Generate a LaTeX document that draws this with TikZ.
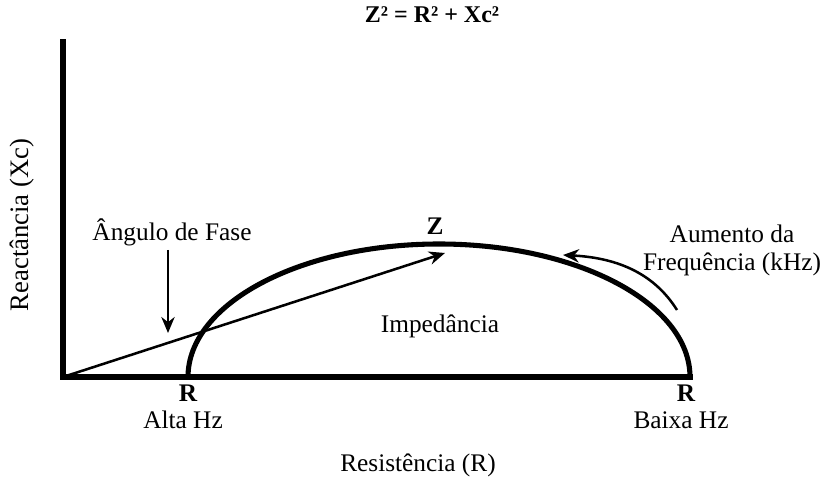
\documentclass[tikz,border=0pt]{standalone}
\usepackage{fontspec}
\setmainfont{Liberation Serif}
\usetikzlibrary{arrows.meta}

\tikzset{
  axisline/.style={line width=3.8pt, line cap=rect},
  curveline/.style={line width=3.8pt},
  thinarrow/.style={line width=1.9pt, -{Stealth[length=12pt, width=10pt]}},
  lbl/.style={font=\fontsize{19}{21}\selectfont, inner sep=0pt},
  boldlbl/.style={font=\fontsize{19}{21}\selectfont\bfseries, inner sep=0pt}
}

\begin{document}
\begin{tikzpicture}[x=0.75pt, y=0.75pt]
    \useasboundingbox (0,0) rectangle (824,477);

    % Axes
    \coordinate (origin) at (63,100);
    \coordinate (ytop) at (63,435);
    \coordinate (xend) at (690,100);
    \draw[axisline] (ytop) -- (origin) -- (xend);

    % Title
    \node[boldlbl, font=\fontsize{18}{20}\selectfont\bfseries] (title) at (432,462) {Z² = R² + Xc²};

    % Axis labels
    \node[lbl, font=\fontsize{20}{24}\selectfont, rotate=90] (ylabel) at (22,252) {Reactância (Xc)};
    \node[lbl] (xlabel) at (418,12) {Resistência (R)};

    % Impedance arc
    \coordinate (rhigh) at (188,100);
    \draw[curveline] (rhigh) arc[start angle=180, end angle=0, x radius=251, y radius=133];
    \node[lbl] (imp) at (440,151) {Impedância};

    % Phase angle vector
    \coordinate (ztip) at (445,224);
    \draw[thinarrow] (origin) -- (ztip);
    \node[boldlbl] (zlabel) at (435,251) {Z};

    \node[lbl] (phase) at (172,245) {Ângulo de Fase};
    \coordinate (phasetop) at (168,227);
    \coordinate (phasetip) at (168,144);
    \draw[thinarrow] (phasetop) -- (phasetip);

    % R marks
    \node[boldlbl] (rone) at (188,84) {R};
    \node[lbl] (alta) at (183,57) {Alta Hz};
    \node[boldlbl] (rtwo) at (686,84) {R};
    \node[lbl] (baixa) at (681,57) {Baixa Hz};

    % Frequency direction
    \node[lbl, align=center] (freq) at (732,227) {Aumento da\\Frequência (kHz)};
    \coordinate (fstart) at (677,167);
    \coordinate (fend) at (563,222);
    \draw[thinarrow] (fstart) .. controls (655,202) and (620,219) .. (fend);
\end{tikzpicture}
\end{document}
